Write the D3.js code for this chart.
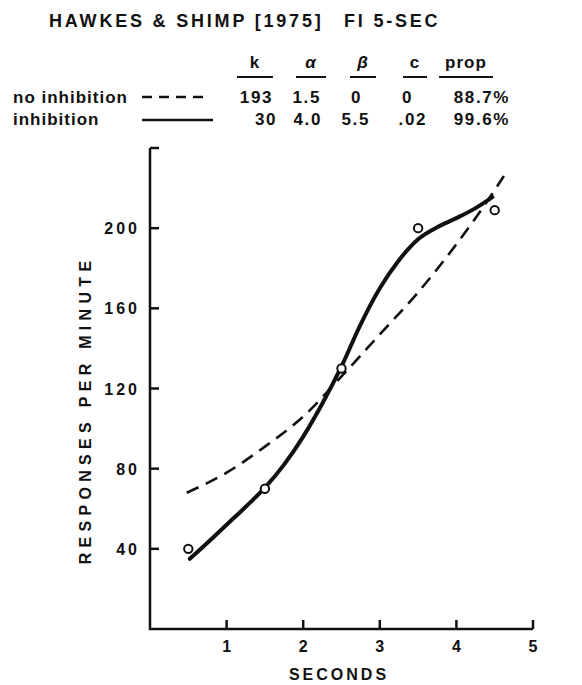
<!DOCTYPE html>
<html>
<head>
<meta charset="utf-8">
<script src="https://cdn.jsdelivr.net/npm/d3@7"></script>
<style>
  html, body { margin: 0; padding: 0; background: #fff; }
  svg text { font-family: "Liberation Sans", Arial, sans-serif; font-weight: bold; fill: #111; }
</style>
</head>
<body>
<div id="chart"></div>
<script>
// Observed response rates (open circles)
const obsSeconds = [0.5, 1.5, 2.5, 3.5, 4.5];
const obsRate    = [40, 70, 130, 200, 209];

// "inhibition" fit (solid curve)
const inhSeconds = [0.52, 0.75, 1.0, 1.25, 1.5, 1.75, 2.0, 2.25, 2.5, 2.75, 3.0, 3.25, 3.5, 3.75, 4.0, 4.25, 4.47];
const inhRate    = [35, 43, 52, 61, 70.5, 82, 96, 112.5, 131, 152, 170, 184, 194.5, 200.5, 205, 210, 215.5];

// "no inhibition" fit (dashed curve)
const noInhSeconds = [0.48, 1.0, 1.5, 2.0, 2.5, 3.0, 3.5, 4.0, 4.5, 4.62];
const noInhRate    = [68, 78, 91, 106, 126, 147, 168, 192, 219, 226];

// Parameter table
const paramHeaders = ['k', 'α', 'β', 'c', 'prop'];
const rowNames     = ['no inhibition', 'inhibition'];
const rowValues    = [
  ['193', '1.5', '0', '0', '88.7%'],
  ['30', '4.0', '5.5', '.02', '99.6%']
];

// Axis ticks
const xTicks = [1, 2, 3, 4, 5];
const yTicks = [40, 80, 120, 160, 200, 240];
const yLabels = [40, 80, 120, 160, 200];

const width = 582, height = 685;
const svg = d3.select('#chart').append('svg')
  .attr('width', width)
  .attr('height', height);

// Scales
const x = d3.scaleLinear().domain([0, 5]).range([150, 533]);
const y = d3.scaleLinear().domain([0, 240]).range([629, 148]);

// Title
svg.append('text')
  .attr('x', 49).attr('y', 27)
  .style('font-size', '18px').style('letter-spacing', '2.8px')
  .text('HAWKES & SHIMP [1975]');
svg.append('text')
  .attr('x', 344).attr('y', 27)
  .style('font-size', '18px').style('letter-spacing', '2.8px')
  .text('FI 5-SEC');

// Table header with underlines
const colCenters = [255, 311, 363, 415, 466];
const colWidths  = [36, 30, 26, 24, 54];
const head = svg.append('g');
paramHeaders.forEach((h, i) => {
  head.append('text')
    .attr('x', colCenters[i]).attr('y', 68)
    .attr('text-anchor', 'middle')
    .style('font-size', '17px').style('letter-spacing', '1px')
    .style('font-style', (h === 'α' || h === 'β') ? 'italic' : 'normal')
    .text(h);
  head.append('line')
    .attr('x1', colCenters[i] - colWidths[i] / 2)
    .attr('x2', colCenters[i] + colWidths[i] / 2)
    .attr('y1', 77).attr('y2', 77)
    .attr('stroke', '#111').attr('stroke-width', 2);
});

// Table rows
const rowY = [103, 125];
const rowRight = [
  [273, 321, 362, 413, 510],
  [277, 322, 370, 427, 510]
];
rowNames.forEach((name, r) => {
  svg.append('text')
    .attr('x', 13).attr('y', rowY[r])
    .style('font-size', '17px').style('letter-spacing', '1px')
    .text(name);
  rowValues[r].forEach((v, i) => {
    svg.append('text')
      .attr('x', rowRight[r][i]).attr('y', rowY[r])
      .attr('text-anchor', 'end')
      .style('font-size', '17px').style('letter-spacing', '1.6px')
      .text(v);
  });
});

// Legend line samples
svg.append('line')
  .attr('x1', 142).attr('x2', 206).attr('y1', 97).attr('y2', 97)
  .attr('stroke', '#111').attr('stroke-width', 2.5)
  .attr('stroke-dasharray', '10,7');
svg.append('line')
  .attr('x1', 142).attr('x2', 213).attr('y1', 120).attr('y2', 120)
  .attr('stroke', '#111').attr('stroke-width', 2.5);

// Axes
const axisG = svg.append('g');
axisG.append('path')
  .attr('d', `M${x(0)},${y(240)}V${y(0)}H${x(5)}`)
  .attr('fill', 'none').attr('stroke', '#111').attr('stroke-width', 2.5);

const tickLen = 9;
axisG.selectAll('.xtick').data(xTicks).join('line')
  .attr('class', 'xtick')
  .attr('x1', d => x(d)).attr('x2', d => x(d))
  .attr('y1', y(0)).attr('y2', y(0) - tickLen)
  .attr('stroke', '#111').attr('stroke-width', 2.5);
axisG.selectAll('.ytick').data(yTicks).join('line')
  .attr('class', 'ytick')
  .attr('x1', x(0)).attr('x2', x(0) + tickLen)
  .attr('y1', d => y(d)).attr('y2', d => y(d))
  .attr('stroke', '#111').attr('stroke-width', 2.5);

axisG.selectAll('.xlab').data(xTicks).join('text')
  .attr('class', 'xlab')
  .attr('x', d => x(d)).attr('y', 652)
  .attr('text-anchor', 'middle')
  .style('font-size', '16px')
  .text(d => d);
axisG.selectAll('.ylab').data(yLabels).join('text')
  .attr('class', 'ylab')
  .attr('x', 140).attr('y', d => y(d) + 6)
  .attr('text-anchor', 'end')
  .style('font-size', '16px').style('letter-spacing', '3px')
  .text(d => d);

svg.append('text')
  .attr('x', 339).attr('y', 680)
  .attr('text-anchor', 'middle')
  .style('font-size', '16px').style('letter-spacing', '3px')
  .text('SECONDS');
svg.append('text')
  .attr('transform', `translate(91,${410}) rotate(-90)`)
  .attr('text-anchor', 'middle')
  .style('font-size', '16px').style('letter-spacing', '5.3px')
  .text('RESPONSES PER MINUTE');

// Curves
const line = d3.line()
  .x(d => x(d[0]))
  .y(d => y(d[1]))
  .curve(d3.curveMonotoneX);

svg.append('path')
  .datum(d3.zip(noInhSeconds, noInhRate))
  .attr('d', line)
  .attr('fill', 'none').attr('stroke', '#111')
  .attr('stroke-width', 2.6)
  .attr('stroke-dasharray', '13,8');

svg.append('path')
  .datum(d3.zip(inhSeconds, inhRate))
  .attr('d', line)
  .attr('fill', 'none').attr('stroke', '#111')
  .attr('stroke-width', 4)
  .attr('stroke-linecap', 'round');

// Observed points
svg.selectAll('.obs').data(d3.zip(obsSeconds, obsRate)).join('circle')
  .attr('class', 'obs')
  .attr('cx', d => x(d[0])).attr('cy', d => y(d[1]))
  .attr('r', 4.2)
  .attr('fill', '#fff').attr('stroke', '#111').attr('stroke-width', 2);
</script>
</body>
</html>
